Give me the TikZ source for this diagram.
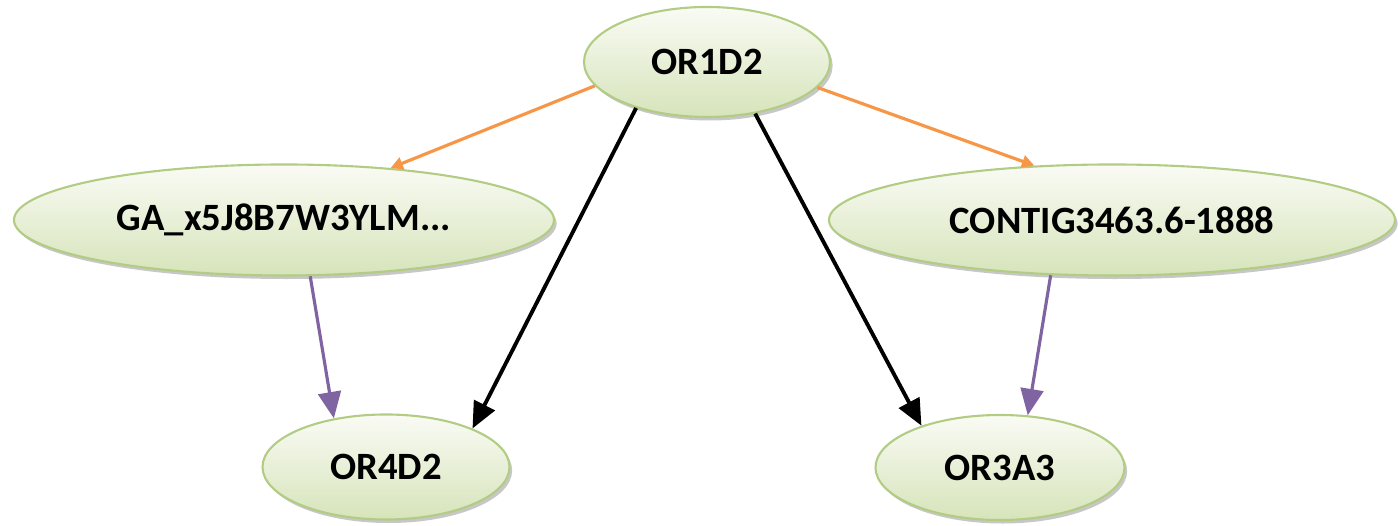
\documentclass[tikz,border=0pt]{standalone}
\usepackage{fontspec}
\setmainfont{Carlito}
\usepackage{tikz}
\usetikzlibrary{shapes.geometric}
\usetikzlibrary{shadows}
\usetikzlibrary{arrows.meta}

\definecolor{leafTop}{RGB}{250,251,245}
\definecolor{leafBottom}{RGB}{214,228,186}
\definecolor{leafRim}{RGB}{178,204,132}
\definecolor{linkOrange}{RGB}{247,150,70}
\definecolor{linkPurple}{RGB}{128,100,162}

\begin{document}
\begin{tikzpicture}
        \tikzset{gene/.style={ellipse, draw=leafRim, line width=1.2pt, top color=leafTop, bottom color=leafBottom, inner sep=0pt,
                drop shadow={shadow xshift=1.5pt, shadow yshift=-2pt, fill=black!40, opacity=.55},
                font=\bfseries\fontsize{22}{26}\selectfont},
                homolog/.style={linkOrange, line width=1.8pt, -{Triangle[length=7pt,width=7pt]}},
                regulates/.style={black, line width=2.2pt, -{Triangle[length=15pt,width=13pt]}},
                binds/.style={linkPurple, line width=1.8pt, -{Triangle[length=15pt,width=13pt]}}}
        
        \useasboundingbox (0,0) rectangle (27.96,10.52);
        
        \coordinate (top_c) at (14.14,9.28);
        \coordinate (left_c) at (5.68,6.12);
        \coordinate (right_c) at (22.24,6.12);
        \coordinate (low_left_c) at (7.72,1.18);
        \coordinate (low_right_c) at (20.0,1.17);
        
        %genes
        \node[gene, minimum width=4.92cm, minimum height=2.2cm] (or1d2) at (top_c) {OR1D2};
        \node[gene, minimum width=10.8cm, minimum height=2.22cm] (ga) at (left_c) {GA\_x5J8B7W3YLM...};
        \node[gene, minimum width=11.32cm, minimum height=2.22cm] (contig) at (right_c) {CONTIG3463.6-1888\hspace{0.4cm}};
        \node[gene, minimum width=4.94cm, minimum height=2.1cm] (or4d2) at (low_left_c) {OR4D2};
        \node[gene, minimum width=4.98cm, minimum height=2.1cm] (or3a3) at (low_right_c) {OR3A3};
        
        %links from the top gene
        \draw [homolog] (or1d2.192) -- (ga.26.6);
        \draw [homolog] (or1d2.347.6) -- (contig.145.5);
        \draw [regulates] (or1d2.213) -- (or4d2.24);
        \draw [regulates] (or1d2.313) -- (or3a3.152);
        
        %links to the lower genes
        \draw [binds] (ga.295) -- (or4d2.137);
        \draw [binds] (contig.222) -- (or3a3.62);
\end{tikzpicture}
\end{document}
